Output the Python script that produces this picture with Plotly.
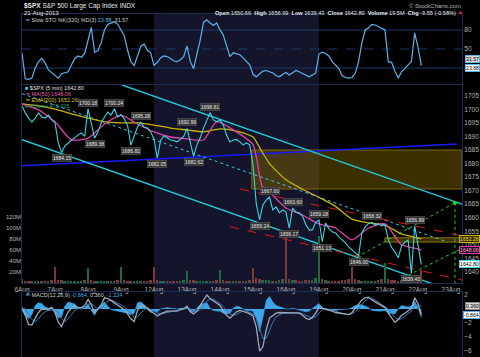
import plotly.graph_objects as go

# ---------------- data ----------------
date_labels = ["6Aug", "7Aug", "8Aug", "9Aug", "12Aug", "13Aug", "14Aug", "15Aug",
               "16Aug", "19Aug", "20Aug", "21Aug", "22Aug", "23Aug"]
bars_per_day = 10  # sampled bars per trading day

price_by_day = [
    [1701.3, 1698.7, 1696.8, 1695.4, 1696.8, 1698.7, 1697.2, 1696.8, 1697.9, 1696.1],
    [1695.0, 1687.6, 1684.15, 1686.5, 1687.5, 1688.7, 1689.5, 1690.6, 1691.3, 1690.0],
    [1700.18, 1694.2, 1689.38, 1691.7, 1695.0, 1697.2, 1699.0, 1697.9, 1700.24, 1697.2],
    [1698.0, 1696.5, 1694.0, 1686.82, 1690.5, 1693.5, 1695.28, 1693.5, 1693.1, 1691.7],
    [1689.0, 1682.05, 1688.5, 1690.2, 1689.5, 1688.7, 1688.5, 1688.0, 1689.0, 1690.0],
    [1692.99, 1687.5, 1682.62, 1686.9, 1689.4, 1693.1, 1696.1, 1698.81, 1696.1, 1695.4],
    [1696.1, 1694.2, 1690.5, 1688.0, 1688.7, 1688.9, 1688.0, 1686.9, 1687.6, 1686.9],
    [1679.5, 1665.0, 1659.24, 1664.7, 1666.5, 1667.60, 1662.9, 1664.0, 1661.8, 1662.9],
    [1662.0, 1656.17, 1663.60, 1662.1, 1661.8, 1660.5, 1657.5, 1655.5, 1655.5, 1658.3],
    [1659.18, 1651.13, 1658.0, 1656.0, 1654.8, 1654.4, 1652.9, 1651.8, 1650.7, 1649.2],
    [1648.1, 1647.0, 1646.00, 1654.5, 1656.6, 1657.8, 1658.32, 1657.3, 1657.8, 1657.0],
    [1657.5, 1651.8, 1649.0, 1647.4, 1645.2, 1649.5, 1651.0, 1651.8, 1639.43, 1656.99],
    [1649.5, 1642.80],
]
volume_by_day = [  # millions
    [8, 4, 3, 3, 4, 3, 3, 4, 3, 5],
    [29, 6, 5, 4, 4, 3, 4, 3, 4, 6],
    [28, 6, 4, 4, 3, 3, 4, 3, 4, 6],
    [30, 5, 4, 4, 3, 3, 3, 4, 4, 6],
    [29, 6, 4, 4, 3, 3, 3, 4, 3, 5],
    [22, 6, 5, 4, 3, 3, 4, 4, 4, 6],
    [24, 5, 4, 4, 3, 3, 4, 4, 4, 6],
    [28, 9, 7, 6, 5, 5, 4, 4, 5, 8],
    [90, 8, 6, 5, 4, 4, 5, 5, 6, 10],
    [85, 7, 5, 4, 4, 4, 4, 5, 5, 7],
    [30, 7, 5, 4, 4, 4, 4, 4, 5, 7],
    [36, 7, 5, 5, 4, 5, 6, 8, 12, 14],
    [10, 24],
]
sto_by_day = [
    [44, 3, 2, 4, 20, 30, 35, 28, 17, 13],
    [8, 4, 11, 13, 14, 25, 35, 39, 37, 43],
    [64, 84, 45, 47, 60, 80, 89, 91, 93, 89],
    [80, 71, 48, 30, 24, 38, 54, 58, 48, 44],
    [24, 29, 36, 39, 38, 35, 31, 30, 33, 38],
    [55, 30, 19, 42, 64, 92, 96, 91, 87, 91],
    [80, 72, 55, 38, 44, 43, 41, 36, 30, 25],
    [10, 6, 11, 15, 16, 14, 12, 8, 6, 10],
    [13, 9, 13, 16, 14, 11, 8, 6, 9, 12],
    [42, 45, 43, 39, 30, 24, 19, 8, 5, 4],
    [5, 12, 30, 60, 80, 83, 89, 88, 85, 83],
    [80, 30, 29, 15, 4, 14, 20, 25, 30, 75],
    [53, 23.88],
]
sto_k_last, sto_d_last = 23.88, 31.57
macd_by_day = [
    [0.1, -0.9, -2.2, -2.3, -1.3, -0.5, 0.0, -0.1, -0.1, 0.2],
    [-0.5, -1.9, -2.5, -1.4, -0.4, 0.1, 0.5, 0.2, 0.2, 0.5],
    [1.4, 0.6, -0.5, 0.0, 0.6, 1.6, 1.5, 1.2, 0.9, 0.6],
    [0.3, -0.1, -0.7, -1.4, -1.8, -0.2, 0.4, 0.5, 0.1, -0.4],
    [-0.6, -1.0, -0.7, -0.5, -0.3, -0.3, -0.3, -0.3, -0.1, 0.0],
    [0.4, -0.4, -0.7, -0.3, 0.5, 1.3, 2.0, 1.5, 1.2, 0.8],
    [0.5, -0.3, -0.9, -1.3, -0.8, -0.4, -0.2, -0.3, -0.5, -0.7],
    [-1.0, -2.6, -6.0, -5.4, -3.0, -1.3, -0.9, -0.6, -0.5, -0.5],
    [-0.6, -0.6, -0.5, -0.5, -0.6, -0.9, -1.3, -1.5, -1.2, -0.6],
    [0.2, 0.1, 0.0, -0.1, -0.3, -0.5, -0.6, -0.7, -0.8, -0.8],
    [-0.5, 0.1, 0.7, 1.3, 1.6, 1.7, 1.3, 1.0, 0.7, 0.4],
    [0.2, -0.6, -1.3, -1.9, -1.5, -0.9, -0.6, -0.3, 0.1, 1.6],
    [0.8, -0.864],
]
signal_by_day = [
    [0.2, 0.0, -0.8, -1.5, -1.8, -1.4, -0.8, -0.4, -0.2, -0.1],
    [-0.1, -0.6, -1.4, -1.8, -1.4, -0.8, -0.2, 0.1, 0.2, 0.3],
    [0.6, 0.8, 0.4, 0.0, 0.1, 0.6, 1.1, 1.3, 1.1, 0.9],
    [0.6, 0.3, -0.1, -0.6, -1.2, -1.1, -0.6, -0.1, 0.2, 0.0],
    [-0.3, -0.6, -0.7, -0.6, -0.5, -0.4, -0.3, -0.3, -0.2, -0.1],
    [0.1, 0.0, -0.3, -0.4, -0.1, 0.5, 1.1, 1.4, 1.4, 1.1],
    [0.8, 0.3, -0.2, -0.7, -0.9, -0.8, -0.5, -0.3, -0.3, -0.5],
    [-0.7, -1.3, -2.8, -4.2, -4.2, -3.1, -1.9, -1.1, -0.8, -0.6],
    [-0.6, -0.6, -0.6, -0.5, -0.5, -0.7, -0.9, -1.2, -1.3, -1.1],
    [-0.6, -0.1, 0.1, 0.0, -0.1, -0.3, -0.5, -0.6, -0.7, -0.8],
    [-0.7, -0.4, 0.1, 0.7, 1.2, 1.5, 1.5, 1.3, 1.0, 0.7],
    [0.4, 0.0, -0.6, -1.2, -1.5, -1.4, -1.0, -0.6, -0.3, 0.5],
    [0.6, 0.36],
]

ma_t = [0, 0.5, 1, 1.5, 2, 2.5, 3, 3.5, 4, 4.5, 5, 5.5, 5.9, 6.5, 7.0, 7.12, 7.27,
        7.5, 8, 8.5, 9, 9.5, 10, 10.5, 11, 11.5, 12, 12.1]
ma50 = [1702.0, 1699.8, 1695.4, 1688.7, 1689.4, 1694.6, 1697.9, 1694.6, 1691.7, 1689.8,
        1689.1, 1688.7, 1695.5, 1691.7, 1687.0, 1681.3, 1671.8, 1669.5, 1663.6, 1661.0,
        1657.7, 1656.2, 1651.8, 1656.2, 1657.7, 1650.0, 1648.5, 1648.06]
ema_t = [0, 0.5, 1, 1.5, 2, 2.5, 3, 3.5, 4, 4.5, 5, 5.5, 6, 6.5, 7, 7.25, 7.5, 8,
         8.5, 9, 9.5, 10, 10.5, 11, 11.5, 12, 12.1]
ema200 = [1702.0, 1701.3, 1700.1, 1698.3, 1696.8, 1695.4, 1695.0, 1695.0, 1694.2, 1693.1,
          1692.4, 1691.7, 1692.8, 1692.0, 1689.8, 1684.8, 1680.0, 1674.0, 1670.5, 1667.5,
          1664.2, 1659.5, 1658.1, 1657.3, 1654.0, 1652.5, 1652.26]

# pivot labels: bar index and side
pivot_idx = [12, 20, 22, 28, 33, 36, 41, 50, 52, 57, 72, 75, 81, 82, 90, 91, 102, 106, 118, 119]
pivot_side = ["lo", "hi", "lo", "hi", "lo", "hi", "lo", "hi", "lo", "hi",
              "lo", "hi", "lo", "hi", "hi", "lo", "lo", "hi", "lo", "hi"]

# hand-drawn annotations (day index, price)
cyan_upper = ([3.03, 13.33], [1709.0, 1665.0])
cyan_lower = ([0.0, 13.33], [1688.8, 1631.8])
blue_line = ([0.0, 13.18], [1679.2, 1687.2])
cyan_dash = ([0.0, 12.88], [1705.8, 1651.1])
red_upper = ([6.61, 13.33], [1670.6, 1653.3])
red_lower = ([6.30, 13.33], [1656.7, 1637.0])
green_upper = ([10.15, 13.12], [1645.5, 1665.5])
green_lower = ([11.55, 13.33], [1637.8, 1648.7])
green_vert = ([13.12, 13.12], [1665.5, 1635.9])
zone_big = (6.96, 13.33, 1670.6, 1685.0)
zone_small = (11.0, 13.33, 1651.0, 1652.6)
shaded_week = (4, 9)

# ---------------- derived ----------------
def flat(lst):
    out = []
    for d in lst:
        out.extend(d)
    return out

price = flat(price_by_day)
volume = flat(volume_by_day)
sto = flat(sto_by_day)
macd = flat(macd_by_day)
signal = flat(signal_by_day)
hist = [m - s for m, s in zip(macd, signal)]
t = [k / bars_per_day for k in range(len(price))]

W, H = 480, 357
XL, XR = 22, 462
X_DOM = [XL / W, XR / W]
XR_T = (XR - XL) / 33.0


def ydom(top_px, bot_px):
    return [1 - bot_px / H, 1 - top_px / H]


def px(x):
    return x / W


def py(y):
    return 1 - y / H


FRAME = "#1b2d52"
TICK = "#b4b4b4"
FONT = "Liberation Sans, Arial, sans-serif"

fig = go.Figure()

# volume (overlay on main)
vcol = ["#1f6a3c"] + ["#1f6a3c" if price[i] >= price[i - 1] else "#7a3a3a" for i in range(1, len(price))]
fig.add_trace(go.Bar(x=t, y=volume, width=0.06, marker=dict(color=vcol, line=dict(width=0)),
                     xaxis="x2", yaxis="y4", hoverinfo="skip"))

# STO
fig.add_trace(go.Scatter(x=t, y=sto, mode="lines", line=dict(color="#5ab4e8", width=1.2),
                         xaxis="x", yaxis="y", hoverinfo="skip"))


def seg(pts, color, width=1, dash=None):
    fig.add_trace(go.Scatter(x=pts[0], y=pts[1], mode="lines",
                             line=dict(color=color, width=width, dash=dash),
                             xaxis="x2", yaxis="y2", hoverinfo="skip"))


seg(blue_line, "#1a1aff", 1.6)
seg(cyan_upper, "#22c8d8", 1.4)
seg(cyan_lower, "#22c8d8", 1.4)
seg(cyan_dash, "#38c8e0", 1, "dot")
seg(red_upper, "#e01818", 1, "dash")
seg(red_lower, "#e01818", 1, "dash")
seg(green_upper, "#22cc22", 1, "dot")
seg(green_lower, "#22cc22", 1, "dot")
seg(green_vert, "#22cc22", 1, "dot")

# moving averages
fig.add_trace(go.Scatter(x=ema_t, y=ema200, mode="lines", line=dict(color="#c8b400", width=1.3, shape="spline", smoothing=0.6),
                         xaxis="x2", yaxis="y2", hoverinfo="skip"))
fig.add_trace(go.Scatter(x=ma_t, y=ma50, mode="lines", line=dict(color="#e040a8", width=1.3, shape="spline", smoothing=0.6),
                         xaxis="x2", yaxis="y2", hoverinfo="skip"))
# price
fig.add_trace(go.Scatter(x=t, y=price, mode="lines", line=dict(color="#38d4e4", width=1.1),
                         xaxis="x2", yaxis="y2", hoverinfo="skip"))
# green marker
fig.add_trace(go.Scatter(x=[green_upper[0][1]], y=[green_upper[1][1]], mode="markers",
                         marker=dict(color="#22dd22", size=4), xaxis="x2", yaxis="y2", hoverinfo="skip"))

# MACD
fig.add_trace(go.Scatter(x=t, y=hist, mode="lines", fill="tozeroy", fillcolor="#3aa8e8",
                         line=dict(color="#3aa8e8", width=0.6), xaxis="x3", yaxis="y3", hoverinfo="skip"))
fig.add_trace(go.Scatter(x=t, y=signal, mode="lines", line=dict(color="#3a78b8", width=1),
                         xaxis="x3", yaxis="y3", hoverinfo="skip"))
fig.add_trace(go.Scatter(x=t, y=macd, mode="lines", line=dict(color="#9aa8b8", width=1.3),
                         xaxis="x3", yaxis="y3", hoverinfo="skip"))

shapes = [
    dict(type="rect", xref="x2", yref="paper", x0=shaded_week[0], x1=shaded_week[1], y0=0, y1=py(13),
         fillcolor="#14142a", line=dict(width=0), layer="below"),
    dict(type="rect", xref="x2", yref="y2", x0=zone_big[0], x1=zone_big[1], y0=zone_big[2], y1=zone_big[3],
         fillcolor="rgba(120,96,0,0.5)", line=dict(color="#7a6400", width=1), layer="below"),
    dict(type="rect", xref="x2", yref="y2", x0=zone_small[0], x1=zone_small[1], y0=zone_small[2], y1=zone_small[3],
         fillcolor="rgba(120,96,0,0.5)", line=dict(color="#8a7400", width=1), layer="below"),
]
for lvl, dsh in [(80, "solid"), (50, "dash"), (20, "solid")]:
    shapes.append(dict(type="line", xref="paper", yref="y", x0=X_DOM[0], x1=X_DOM[1], y0=lvl, y1=lvl,
                       line=dict(color="#1c3a6a", width=1, dash=dsh), layer="below"))

ann = []
# pivot labels
for i, side in zip(pivot_idx, pivot_side):
    ann.append(dict(x=t[i], y=price[i], xref="x2", yref="y2", text=f"{price[i]:.2f}", showarrow=False,
                    yanchor="bottom" if side == "hi" else "top", yshift=2 if side == "hi" else -2,
                    font=dict(size=5, color="#e8e8e8", family=FONT), bgcolor="#353535",
                    bordercolor="#5a5a5a", borderwidth=0.5, borderpad=0.5))

# headers
ann += [
    dict(x=px(22), y=py(6), xref="paper", yref="paper", xanchor="left", yanchor="middle", showarrow=False,
         text="<b>$SPX</b> S&P 500 Large Cap Index INDX", font=dict(size=6.5, color="#e8e8e8", family=FONT)),
    dict(x=px(22), y=py(13), xref="paper", yref="paper", xanchor="left", yanchor="middle", showarrow=False,
         text="21-Aug-2013", font=dict(size=6, color="#e8e8e8", family=FONT)),
    dict(x=px(463), y=py(6), xref="paper", yref="paper", xanchor="right", yanchor="middle", showarrow=False,
         text="© StockCharts.com", font=dict(size=6, color="#b8b8b8", family=FONT)),
    dict(x=px(465), y=py(13), xref="paper", yref="paper", xanchor="right", yanchor="middle", showarrow=False,
         text="<b>Open</b> 1650.66  <b>High</b> 1656.99  <b>Low</b> 1639.43  <b>Close</b> 1642.80  "
              "<b>Volume</b> 19.5M  <b>Chg</b> -9.55 (-0.58%) <span style='color:#ff2020'>▼</span>",
         font=dict(size=5.6, color="#e8e8e8", family=FONT)),
    dict(x=px(23), y=py(19.5), xref="paper", yref="paper", xanchor="left", yanchor="middle", showarrow=False,
         text="<span style='color:#5ab4e8'>━</span> Slow STO %K(320) %D(3) <span style='color:#5ab4e8'>23.88</span>, 31.57",
         font=dict(size=5.5, color="#d0d0d0", family=FONT)),
    dict(x=px(23), y=py(88), xref="paper", yref="paper", xanchor="left", yanchor="middle", showarrow=False,
         text="<span style='color:#38d4e4'>■</span> $SPX (5 min) 1642.80",
         font=dict(size=5.5, color="#e0e0e0", family=FONT)),
    dict(x=px(23), y=py(94), xref="paper", yref="paper", xanchor="left", yanchor="middle", showarrow=False,
         text="<span style='color:#e040a8'>━</span> MA(50) 1648.06",
         font=dict(size=5.5, color="#e060b0", family=FONT)),
    dict(x=px(23), y=py(100), xref="paper", yref="paper", xanchor="left", yanchor="middle", showarrow=False,
         text="<span style='color:#c8b400'>━</span> EMA(200) 1652.26",
         font=dict(size=5.5, color="#d0c020", family=FONT)),
    dict(x=px(23), y=py(106), xref="paper", yref="paper", xanchor="left", yanchor="middle", showarrow=False,
         text="<span style='color:#1f7a44'>■</span> Volume 471,026",
         font=dict(size=5.5, color="#20a080", family=FONT)),
    dict(x=px(23), y=py(295), xref="paper", yref="paper", xanchor="left", yanchor="middle", showarrow=False,
         text="<span style='color:#5ab4e8'>━</span> MACD(12,26,9) <span style='color:#3aa8e8'>-0.864</span>, 0.360, <span style='color:#3aa8e8'>-1.224</span>",
         font=dict(size=5.5, color="#d0d0d0", family=FONT)),
]


def tag(yval, yref, text, bg, fg, border, shift=0):
    ann.append(dict(x=1.0, y=yval, xref="paper", yref=yref, xanchor="right", yanchor="middle",
                    text=text, showarrow=False, font=dict(size=5.2, color=fg, family=FONT),
                    bgcolor=bg, bordercolor=border, borderwidth=1, borderpad=0, yshift=shift))


tag(sto_d_last, "y", f"{sto_d_last:.2f}", "#d8d8d8", "#000000", "#5ab4e8", 2)
tag(sto_k_last, "y", f"{sto_k_last:.2f}", "#ffffff", "#000000", "#5ab4e8", -2)
tag(ema200[-1], "y2", f"{ema200[-1]:.2f}", "#3a3000", "#e8d840", "#c8b400")
tag(ma50[-1], "y2", f"{ma50[-1]:.2f}", "#2a0a20", "#f0a0d0", "#e040a8")
tag(price[-1], "y2", f"{price[-1]:.2f}", "#ffffff", "#000000", "#38d4e4")
tag(signal[-1], "y3", f"{signal[-1]:.3f}", "#d8d8d8", "#000000", "#888888")
tag(macd[-1], "y3", f"{macd[-1]:.3f}", "#ffffff", "#000000", "#5ab4e8")

axis_common = dict(showgrid=False, zeroline=False, showline=True, mirror=True, linecolor=FRAME,
                   linewidth=1, ticks="", automargin=False,
                   tickfont=dict(size=6.5, color=TICK, family=FONT))

fig.update_layout(
    template="none",
    width=W, height=H, margin=dict(l=0, r=0, t=0, b=0, pad=0, autoexpand=False),
    paper_bgcolor="black", plot_bgcolor="black", showlegend=False, bargap=0,
    font=dict(family=FONT, size=7, color=TICK),
    xaxis=dict(domain=X_DOM, anchor="y", range=[0, XR_T], showticklabels=False, **axis_common),
    xaxis2=dict(domain=X_DOM, anchor="y2", range=[0, XR_T], tickvals=list(range(len(date_labels))),
                ticktext=date_labels, **axis_common),
    xaxis3=dict(domain=X_DOM, anchor="y3", range=[0, XR_T], showticklabels=False, **axis_common),
    yaxis=dict(domain=ydom(14, 84), anchor="x", side="right", range=[-5.3, 105.3],
               tickvals=[20, 50, 80], **axis_common),
    yaxis2=dict(domain=ydom(85, 283), anchor="x2", side="right", range=[1635.9, 1709],
                tickvals=list(range(1640, 1710, 5)), **axis_common),
    yaxis3=dict(domain=ydom(292, 357), anchor="x3", side="right", range=[-6.86, 2.43],
                tickvals=[2, -2, -4, -6], **axis_common),
    yaxis4=dict(overlaying="y2", anchor="x2", side="left", range=[0, 360], showgrid=False, zeroline=False,
                showline=False, ticks="", automargin=False, tickvals=[20, 40, 60, 80, 100, 120],
                ticktext=["20M", "40M", "60M", "80M", "100M", "120M"],
                tickfont=dict(size=6, color=TICK, family=FONT)),
    shapes=shapes, annotations=ann,
)

fig.write_html(
    "out.html",
    config={"displayModeBar": False},
    post_script="document.documentElement.style.margin='0';document.body.style.margin='0';"
                "document.body.style.background='black';document.body.style.overflow='hidden';",
)
